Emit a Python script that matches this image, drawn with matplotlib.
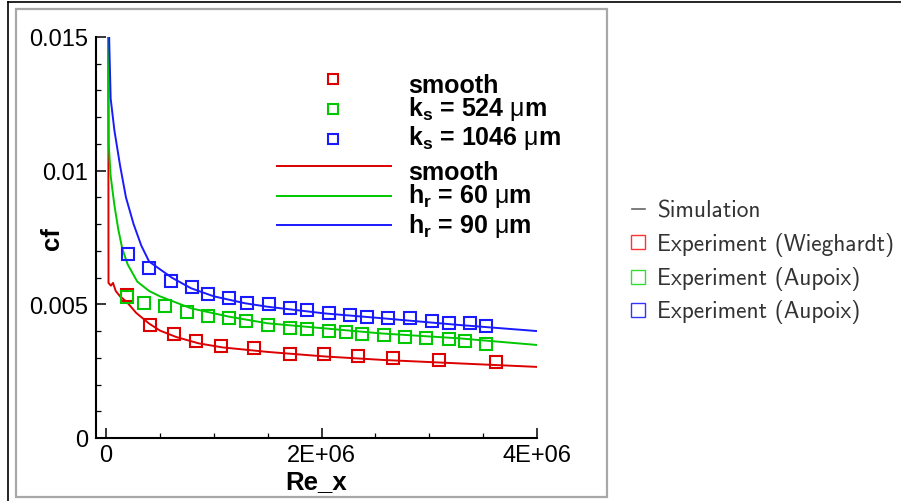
import matplotlib
matplotlib.use('Agg')
import matplotlib.pyplot as plt
from matplotlib.lines import Line2D
from matplotlib.patches import Rectangle
from matplotlib.ticker import MultipleLocator, FuncFormatter

plt.rcParams['font.family'] = ['Liberation Sans', 'DejaVu Sans']
plt.rcParams['mathtext.fontset'] = 'custom'
plt.rcParams['mathtext.rm'] = 'Liberation Sans'
plt.rcParams['mathtext.bf'] = 'Liberation Sans:bold'
plt.rcParams['mathtext.it'] = 'Liberation Sans:italic'

# 시뮬레이션 곡선
re_sim_smooth = [2.0e4, 2.3e4, 4.5e4, 6.5e4, 9.0e4, 1.3e5, 1.9e5, 2.8e5, 4.0e5, 5.0e5,
                 6.5e5, 8.6e5, 1.08e6, 1.5e6, 2.03e6, 2.57e6, 3.28e6, 4.0e6]
cf_sim_smooth = [0.0220, 0.0058, 0.0057, 0.0058, 0.0055, 0.0053, 0.00510, 0.00468, 0.00428, 0.00402,
                 0.00378, 0.00354, 0.00339, 0.00322, 0.00305, 0.00292, 0.00279, 0.00266]

re_sim_h60 = [1.8e4, 2.5e4, 4.3e4, 7.8e4, 1.14e5, 1.5e5, 2.0e5, 2.9e5, 4.0e5, 5.0e5,
              7.9e5, 1.14e6, 1.5e6, 2.03e6, 2.56e6, 3.27e6, 4.0e6]
cf_sim_h60 = [0.0180, 0.0110, 0.0098, 0.0087, 0.0078, 0.0071, 0.0065, 0.00585, 0.0055, 0.0053,
              0.00485, 0.00454, 0.00429, 0.00410, 0.00391, 0.00373, 0.00348]

re_sim_h90 = [2.5e4, 3.0e4, 4.3e4, 7.8e4, 1.3e5, 1.85e5, 2.56e5, 3.27e5, 4.0e5, 6.1e5,
              7.9e5, 1.0e6, 1.29e6, 1.5e6, 2.03e6, 2.56e6, 3.27e6, 4.0e6]
cf_sim_h90 = [0.0180, 0.0148, 0.0127, 0.0115, 0.0102, 0.0090, 0.0080, 0.0072, 0.0066, 0.0060,
              0.0056, 0.0053, 0.00504, 0.00491, 0.00466, 0.00448, 0.00423, 0.00400]

# 실험 데이터
re_exp_smooth = [1.95e5, 4.08e5, 6.28e5, 8.34e5, 1.065e6, 1.373e6, 1.71e6, 2.023e6,
                 2.339e6, 2.662e6, 3.095e6, 3.62e6]
cf_exp_smooth = [0.00535, 0.00423, 0.00388, 0.00363, 0.00345, 0.00338, 0.00316, 0.00316,
                 0.00308, 0.00300, 0.00291, 0.00285]

re_exp_k524 = [1.95e5, 3.55e5, 5.5e5, 7.52e5, 9.48e5, 1.143e6, 1.302e6, 1.508e6, 1.71e6, 1.863e6,
               2.066e6, 2.225e6, 2.374e6, 2.58e6, 2.775e6, 2.97e6, 3.18e6, 3.336e6, 3.53e6]
cf_exp_k524 = [0.00529, 0.00504, 0.00495, 0.00470, 0.00458, 0.00450, 0.00438, 0.00423, 0.00410, 0.00406,
               0.00400, 0.00395, 0.00388, 0.00385, 0.00379, 0.00373, 0.00369, 0.00363, 0.00350]

re_exp_k1046 = [2.02e5, 3.97e5, 6.0e5, 7.99e5, 9.48e5, 1.143e6, 1.313e6, 1.515e6, 1.71e6, 1.863e6,
                2.066e6, 2.26e6, 2.42e6, 2.616e6, 2.818e6, 3.024e6, 3.18e6, 3.38e6, 3.53e6]
cf_exp_k1046 = [0.00688, 0.00635, 0.00588, 0.00563, 0.00539, 0.00523, 0.00506, 0.00500, 0.00485, 0.00479,
                0.00466, 0.00460, 0.00454, 0.00448, 0.00448, 0.00438, 0.00429, 0.00429, 0.00420]

RED = '#dd0000'
GREEN = '#00c800'
BLUE = '#1a1aff'

W, H = 901, 502
fig = plt.figure(figsize=(W / 100, H / 100), dpi=100)

# 바깥 테두리
fig.add_artist(Rectangle((16 / W, 1 - 497.5 / H), 591 / W, 487.5 / H, transform=fig.transFigure,
                         fill=False, ec='#a8a8a8', lw=1.6))
fig.add_artist(Line2D([8 / W, 8 / W], [0, 1 - 2.7 / H], color='black', lw=1.2, transform=fig.transFigure))
fig.add_artist(Line2D([8 / W, 1], [1 - 2.7 / H, 1 - 2.7 / H], color='black', lw=1.2, transform=fig.transFigure))

ax = fig.add_axes([96 / W, 1 - 439 / H, 441 / W, 401 / H])

ax.plot(re_sim_smooth, cf_sim_smooth, color=RED, lw=1.4)
ax.plot(re_sim_h60, cf_sim_h60, color=GREEN, lw=1.4)
ax.plot(re_sim_h90, cf_sim_h90, color=BLUE, lw=1.4)

sq = dict(ls='none', marker='s', mfc='none', ms=8.5, mew=1.5)
ax.plot(re_exp_smooth, cf_exp_smooth, mec=RED, **sq)
ax.plot(re_exp_k524, cf_exp_k524, mec=GREEN, **sq)
ax.plot(re_exp_k1046, cf_exp_k1046, mec=BLUE, **sq)

ax.set_xlim(-9.3e4, 4e6)
ax.set_ylim(0, 0.015)
for s in ['top', 'right']:
    ax.spines[s].set_visible(False)
for s in ['left', 'bottom']:
    ax.spines[s].set_linewidth(1.5)

ax.xaxis.set_major_locator(MultipleLocator(2e6))
ax.xaxis.set_minor_locator(MultipleLocator(5e5))
ax.yaxis.set_major_locator(MultipleLocator(0.005))
ax.yaxis.set_minor_locator(MultipleLocator(0.001))
ax.xaxis.set_major_formatter(FuncFormatter(lambda v, p: '0' if v == 0 else f'{v:.0E}'))
ax.yaxis.set_major_formatter(FuncFormatter(lambda v, p: f'{v:g}'))
ax.tick_params(which='major', direction='in', length=7, width=1.1, labelsize=17)
ax.tick_params(which='minor', direction='in', length=3.5, width=0.9)
ax.tick_params(axis='y', which='major', pad=5.5)
ax.tick_params(axis='x', which='major', pad=4.3)

ax.set_xlabel('Re_x', fontweight='bold', fontsize=18.5, labelpad=2)
ax.set_ylabel('cf', fontweight='bold', fontsize=18.5)
ax.yaxis.set_label_coords(-0.072, 0.5)

# 안쪽 범례 (Tecplot 스타일)
marker_keys = [(RED, 'smooth'), (GREEN, 'k$_\\mathbf{s}$ = 524 $\\mathrm{\\mu}$m'),
               (BLUE, 'k$_\\mathbf{s}$ = 1046 $\\mathrm{\\mu}$m')]
marker_y = [0.895, 0.820, 0.746]
marker_text_y = [0.862, 0.806, 0.733]
for (c, lab), my, ty in zip(marker_keys, marker_y, marker_text_y):
    ax.plot([0.537], [my], transform=ax.transAxes, clip_on=False, ls='none', marker='s',
            mfc='none', mec=c, ms=7, mew=1.5)
    ax.text(0.7075, ty, lab, transform=ax.transAxes, fontsize=18, fontweight='bold', va='baseline')

line_keys = [(RED, 'smooth'), (GREEN, 'h$_\\mathbf{r}$ = 60 $\\mathrm{\\mu}$m'),
             (BLUE, 'h$_\\mathbf{r}$ = 90 $\\mathrm{\\mu}$m')]
line_y = [0.678, 0.603, 0.531]
line_text_y = [0.646, 0.589, 0.514]
for (c, lab), ly, ty in zip(line_keys, line_y, line_text_y):
    ax.plot([0.410, 0.669], [ly, ly], transform=ax.transAxes, clip_on=False, color=c, lw=1.4)
    ax.text(0.7075, ty, lab, transform=ax.transAxes, fontsize=18, fontweight='bold', va='baseline')

# 오른쪽 범례
side_labels = ['Simulation', 'Experiment (Wieghardt)', 'Experiment (Aupoix)', 'Experiment (Aupoix)']
side_colors = ['#666666', '#ff3333', '#33dd33', '#3333ff']
side_baselines = [217.3, 250.7, 285.0, 318.5]
for i, (lab, c, yb) in enumerate(zip(side_labels, side_colors, side_baselines)):
    yc = yb - 7.3
    if i == 0:
        fig.add_artist(Line2D([631.7 / W, 645 / W], [1 - yc / H] * 2, color=c, lw=1.2,
                              transform=fig.transFigure))
    else:
        fig.add_artist(Line2D([637.5 / W], [1 - yc / H], ls='none', marker='s', ms=10,
                              mfc='none', mec=c, mew=1.0, transform=fig.transFigure))
    fig.text(657 / W, 1 - yb / H, lab, family='cmss10', fontsize=16.8, color='#333333', va='baseline')

fig.savefig('out.png', dpi=100)
